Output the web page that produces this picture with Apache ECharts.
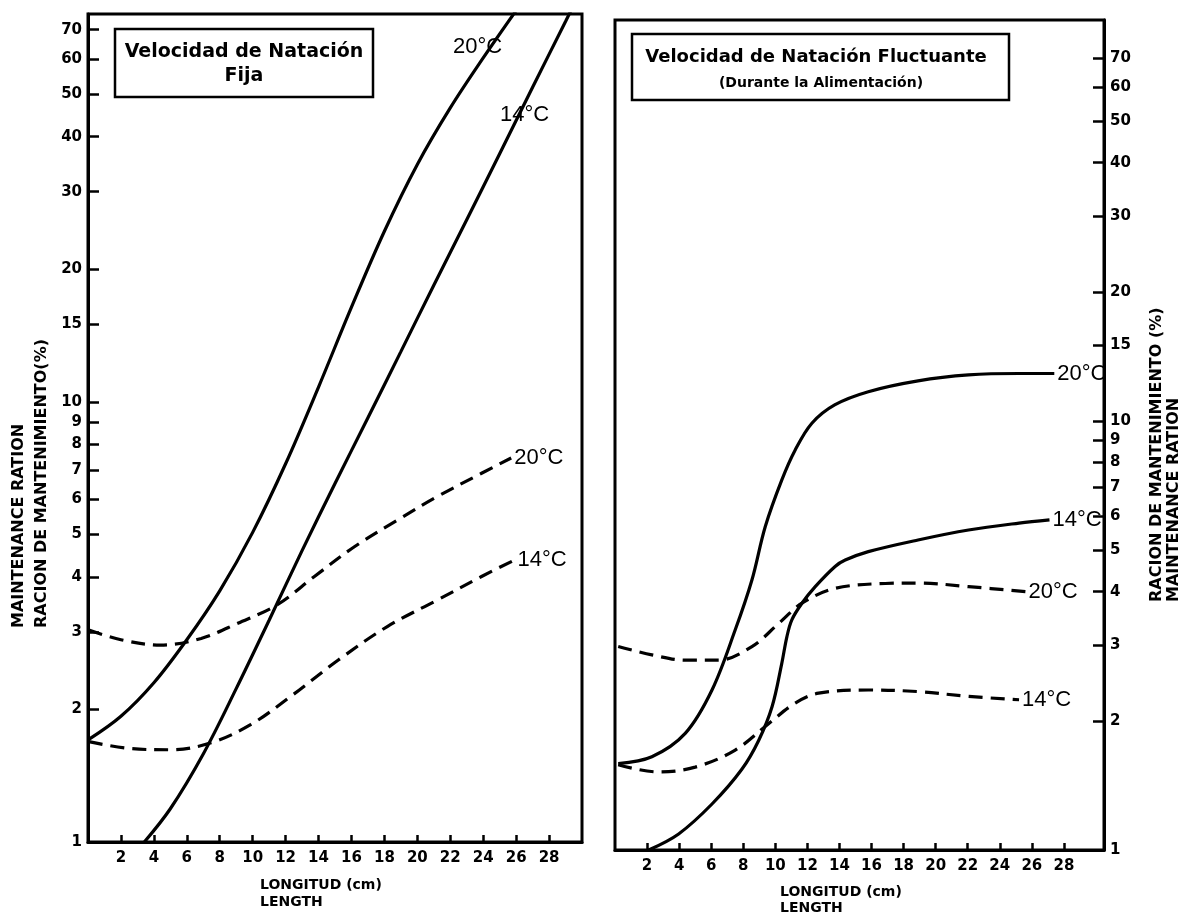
<!DOCTYPE html>
<html><head><meta charset="utf-8">
<script src="https://cdn.jsdelivr.net/npm/echarts@6/dist/echarts.min.js"></script>
<style>html,body{margin:0;padding:0;background:#fff}#c{width:1183px;height:916px}</style>
</head><body><div id="c"></div>
<script>
// Tick values
const yTicks = [1, 2, 3, 4, 5, 6, 7, 8, 9, 10, 15, 20, 30, 40, 50, 60, 70];
const xTicks = [2, 4, 6, 8, 10, 12, 14, 16, 18, 20, 22, 24, 26, 28];

// Left panel: Velocidad de Natación Fija
const fix20SolidX = [0.05, 2, 4, 6, 8, 10, 12, 14, 16, 18, 20, 22, 24, 26];
const fix20SolidY = [1.71, 1.93, 2.30, 2.88, 3.72, 5.05, 7.23, 10.8, 16.4, 24.4, 34.6, 46.5, 60.4, 77.4];
const fix14SolidX = [3.42, 5, 7, 9, 11, 13, 15, 17, 19, 21, 23, 25, 27, 29, 30];
const fix14SolidY = [1.0, 1.19, 1.585, 2.23, 3.19, 4.59, 6.52, 9.2, 13.0, 18.4, 25.9, 36.6, 51.8, 73.1, 86.9];
const fix20DashX = [0.05, 2.0, 4.4, 6.87, 9.1, 11.5, 13.75, 16.2, 18.8, 21.25, 23.9, 25.7];
const fix20DashY = [3.03, 2.88, 2.80, 2.90, 3.14, 3.46, 4.01, 4.69, 5.39, 6.1, 6.88, 7.45];
const fix14DashX = [0.05, 2.6, 5.04, 7.47, 9.9, 12.3, 15.2, 18.2, 21.25, 23.9, 25.9];
const fix14DashY = [1.69, 1.63, 1.62, 1.68, 1.85, 2.14, 2.59, 3.09, 3.55, 4.01, 4.37];

// Right panel: Velocidad de Natación Fluctuante
const flu20SolidX = [0.2, 2.3, 4.38, 6.05, 7.5, 8.54, 9.37, 10.4, 11.24, 12.28, 13.7, 15.8, 18.9, 22.05, 25.2, 27.4];
const flu20SolidY = [1.59, 1.65, 1.87, 2.36, 3.26, 4.26, 5.67, 7.28, 8.56, 9.88, 10.9, 11.7, 12.4, 12.8, 12.9, 12.9];
const flu14SolidX = [2.1, 3.97, 6.05, 7.9, 8.96, 9.8, 10.4, 10.72, 11.03, 11.66, 12.49, 13.73, 14.36, 15.8, 18.9, 22.05, 25.2, 27.1];
const flu14SolidY = [1.0, 1.09, 1.28, 1.54, 1.80, 2.16, 2.72, 3.14, 3.44, 3.76, 4.11, 4.58, 4.74, 4.96, 5.28, 5.57, 5.78, 5.88];
const flu20DashX = [0.2, 2.3, 4.38, 6.46, 8.54, 10.2, 11.66, 13.7, 16.85, 18.9, 22.05, 25.6];
const flu20DashY = [2.98, 2.85, 2.77, 2.77, 2.98, 3.37, 3.76, 4.07, 4.18, 4.19, 4.11, 4.0];
const flu14DashX = [0.2, 2.7, 5.0, 7.5, 9.58, 11.24, 12.7, 15.8, 18.9, 22.05, 25.2];
const flu14DashY = [1.58, 1.52, 1.56, 1.71, 1.97, 2.20, 2.32, 2.36, 2.34, 2.28, 2.24];

const pts = (xs, ys) => xs.map((x, i) => [x, ys[i]]);
const TICK_FONT = 'DejaVu Sans';
const LBL_FONT = 'Liberation Sans';

function line(xs, ys, gi, dashed, label) {
  const s = {
    type: 'line', xAxisIndex: gi, yAxisIndex: gi,
    data: pts(xs, ys), smooth: 0.35, symbol: 'none',
    lineStyle: { color: '#000', width: 3.2, type: dashed ? [14, 8] : 'solid', cap: 'butt' },
    animation: false, silent: true
  };
  if (label) {
    s.endLabel = { show: true, formatter: label, color: '#000', fontSize: 22, fontFamily: LBL_FONT, distance: 3 };
  }
  return s;
}

function xAxis(gi, max) {
  return {
    gridIndex: gi, type: 'value', min: 0, max: max,
    axisLine: { show: true, onZero: false, lineStyle: { color: '#000', width: 3 } },
    axisTick: { show: true, inside: true, length: 7, customValues: xTicks, lineStyle: { color: '#000', width: 2.5 } },
    axisLabel: { customValues: xTicks, color: '#000', fontWeight: 'bold', fontSize: 15, fontFamily: TICK_FONT, margin: 9 },
    splitLine: { show: false }
  };
}
function yAxis(gi, max, pos) {
  return {
    gridIndex: gi, type: 'log', logBase: 10, min: 1, max: max, position: pos,
    axisLine: { show: true, onZero: false, lineStyle: { color: '#000', width: 3 } },
    axisTick: { show: true, inside: true, length: 11, customValues: yTicks, lineStyle: { color: '#000', width: 2.5 } },
    axisLabel: { customValues: yTicks, color: '#000', fontWeight: 'bold', fontSize: 15, fontFamily: TICK_FONT, margin: 6 },
    splitLine: { show: false }, minorTick: { show: false }
  };
}

const chart = echarts.init(document.getElementById('c'));
const titleFont = 'bold 19px "DejaVu Sans"';
chart.setOption({
  backgroundColor: '#fff',
  animation: false,
  grid: [
    { left: 88, top: 14, width: 494, height: 828, show: true, borderColor: '#000', borderWidth: 3, backgroundColor: 'transparent' },
    { left: 615, top: 20, width: 489, height: 830, show: true, borderColor: '#000', borderWidth: 3, backgroundColor: 'transparent' }
  ],
  xAxis: [xAxis(0, 30), xAxis(1, 30.5)],
  yAxis: [yAxis(0, 76, 'left'), yAxis(1, 86, 'right')],
  series: [
    line(fix20SolidX, fix20SolidY, 0, false, null),
    line(fix14SolidX, fix14SolidY, 0, false, null),
    line(fix20DashX, fix20DashY, 0, true, '20°C'),
    line(fix14DashX, fix14DashY, 0, true, '14°C'),
    line(flu20SolidX, flu20SolidY, 1, false, '20°C'),
    line(flu14SolidX, flu14SolidY, 1, false, '14°C'),
    line(flu20DashX, flu20DashY, 1, true, '20°C'),
    line(flu14DashX, flu14DashY, 1, true, '14°C')
  ],
  graphic: [
    { type: 'rect', shape: { x: 115, y: 29, width: 258, height: 68 }, style: { fill: '#fff', stroke: '#000', lineWidth: 2.5 }, z: 10 },
    { type: 'text', x: 244, y: 52, style: { text: 'Velocidad de Natación', font: titleFont, fill: '#000', align: 'center', verticalAlign: 'middle' }, z: 11 },
    { type: 'text', x: 244, y: 76, style: { text: 'Fija', font: titleFont, fill: '#000', align: 'center', verticalAlign: 'middle' }, z: 11 },
    { type: 'rect', shape: { x: 632, y: 34, width: 377, height: 66 }, style: { fill: '#fff', stroke: '#000', lineWidth: 2.5 }, z: 10 },
    { type: 'text', x: 816, y: 57, style: { text: 'Velocidad de Natación Fluctuante', font: 'bold 18px "DejaVu Sans"', fill: '#000', align: 'center', verticalAlign: 'middle' }, z: 11 },
    { type: 'text', x: 821, y: 83, style: { text: '(Durante la Alimentación)', font: 'bold 14px "DejaVu Sans"', fill: '#000', align: 'center', verticalAlign: 'middle' }, z: 11 },
    { type: 'text', x: 453, y: 47, style: { text: '20°C', font: '22px "Liberation Sans"', fill: '#000', align: 'left', verticalAlign: 'middle' }, z: 11 },
    { type: 'text', x: 500, y: 115, style: { text: '14°C', font: '22px "Liberation Sans"', fill: '#000', align: 'left', verticalAlign: 'middle' }, z: 11 },
    { type: 'text', x: 19, y: 628, rotation: Math.PI / 2, style: { text: 'MAINTENANCE RATION', font: 'bold 16px "DejaVu Sans"', fill: '#000', align: 'left', verticalAlign: 'middle' } },
    { type: 'text', x: 42, y: 628, rotation: Math.PI / 2, style: { text: 'RACION DE MANTENIMIENTO(%)', font: 'bold 16px "DejaVu Sans"', fill: '#000', align: 'left', verticalAlign: 'middle' } },
    { type: 'text', x: 1157, y: 602, rotation: Math.PI / 2, style: { text: 'RACION DE MANTENIMIENTO (%)', font: 'bold 16px "DejaVu Sans"', fill: '#000', align: 'left', verticalAlign: 'middle' } },
    { type: 'text', x: 1174, y: 602, rotation: Math.PI / 2, style: { text: 'MAINTENANCE RATION', font: 'bold 16px "DejaVu Sans"', fill: '#000', align: 'left', verticalAlign: 'middle' } },
    { type: 'text', x: 260, y: 885, style: { text: 'LONGITUD (cm)', font: 'bold 14px "DejaVu Sans"', fill: '#000', align: 'left', verticalAlign: 'middle' } },
    { type: 'text', x: 260, y: 902, style: { text: 'LENGTH', font: 'bold 14px "DejaVu Sans"', fill: '#000', align: 'left', verticalAlign: 'middle' } },
    { type: 'text', x: 780, y: 892, style: { text: 'LONGITUD (cm)', font: 'bold 14px "DejaVu Sans"', fill: '#000', align: 'left', verticalAlign: 'middle' } },
    { type: 'text', x: 780, y: 908, style: { text: 'LENGTH', font: 'bold 14px "DejaVu Sans"', fill: '#000', align: 'left', verticalAlign: 'middle' } }
  ]
});
</script></body></html>
